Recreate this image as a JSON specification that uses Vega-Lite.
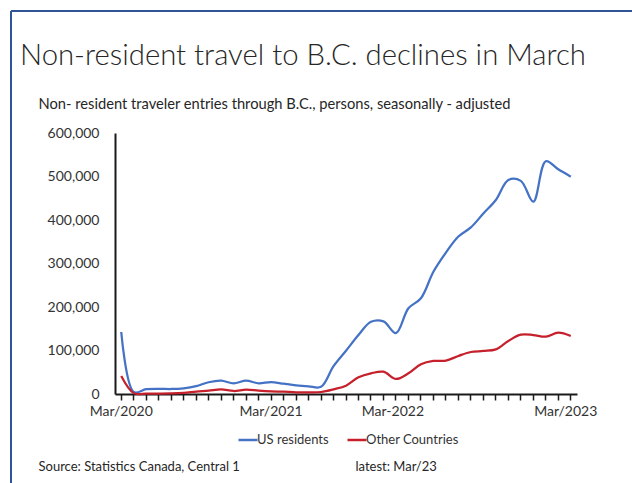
{
  "$schema": "https://vega.github.io/schema/vega-lite/v6.json",
  "autosize": {"type": "none"},
  "padding": {"left": 11, "top": 11, "right": 0, "bottom": 0},
  "width": 621,
  "height": 472,
  "background": "white",
  "config": {
    "view": {"stroke": "#2F5597", "strokeWidth": 2, "strokeDash": [621, 1093, 472, 0]},
    "font": "Lato"
  },
  "title": {
    "text": "Non-resident travel to B.C. declines in March",
    "anchor": "start",
    "frame": "group",
    "orient": "top",
    "offset": 0,
    "dx": 9,
    "dy": 83,
    "baseline": "alphabetic",
    "font": "Lato",
    "fontSize": 29.3,
    "fontWeight": 300,
    "color": "#262626"
  },
  "data": {
    "values": [
      {"month": "2020-03", "series": "US residents", "value": 142500},
      {"month": "2020-04", "series": "US residents", "value": 4600},
      {"month": "2020-05", "series": "US residents", "value": 11000},
      {"month": "2020-06", "series": "US residents", "value": 12000},
      {"month": "2020-07", "series": "US residents", "value": 11500},
      {"month": "2020-08", "series": "US residents", "value": 13000},
      {"month": "2020-09", "series": "US residents", "value": 18000},
      {"month": "2020-10", "series": "US residents", "value": 27000},
      {"month": "2020-11", "series": "US residents", "value": 30500},
      {"month": "2020-12", "series": "US residents", "value": 24500},
      {"month": "2021-01", "series": "US residents", "value": 30500},
      {"month": "2021-02", "series": "US residents", "value": 24500},
      {"month": "2021-03", "series": "US residents", "value": 27500},
      {"month": "2021-04", "series": "US residents", "value": 23700},
      {"month": "2021-05", "series": "US residents", "value": 20000},
      {"month": "2021-06", "series": "US residents", "value": 17700},
      {"month": "2021-07", "series": "US residents", "value": 16500},
      {"month": "2021-08", "series": "US residents", "value": 64000},
      {"month": "2021-09", "series": "US residents", "value": 99600},
      {"month": "2021-10", "series": "US residents", "value": 135600},
      {"month": "2021-11", "series": "US residents", "value": 166000},
      {"month": "2021-12", "series": "US residents", "value": 167000},
      {"month": "2022-01", "series": "US residents", "value": 140000},
      {"month": "2022-02", "series": "US residents", "value": 197000},
      {"month": "2022-03", "series": "US residents", "value": 220000},
      {"month": "2022-04", "series": "US residents", "value": 281000},
      {"month": "2022-05", "series": "US residents", "value": 325000},
      {"month": "2022-06", "series": "US residents", "value": 362000},
      {"month": "2022-07", "series": "US residents", "value": 383000},
      {"month": "2022-08", "series": "US residents", "value": 415000},
      {"month": "2022-09", "series": "US residents", "value": 446000},
      {"month": "2022-10", "series": "US residents", "value": 492000},
      {"month": "2022-11", "series": "US residents", "value": 490000},
      {"month": "2022-12", "series": "US residents", "value": 442000},
      {"month": "2023-01", "series": "US residents", "value": 535000},
      {"month": "2023-02", "series": "US residents", "value": 516500},
      {"month": "2023-03", "series": "US residents", "value": 499600},
      {"month": "2020-03", "series": "Other Countries", "value": 41400},
      {"month": "2020-04", "series": "Other Countries", "value": 2000},
      {"month": "2020-05", "series": "Other Countries", "value": 700},
      {"month": "2020-06", "series": "Other Countries", "value": 800},
      {"month": "2020-07", "series": "Other Countries", "value": 1200},
      {"month": "2020-08", "series": "Other Countries", "value": 2500},
      {"month": "2020-09", "series": "Other Countries", "value": 5400},
      {"month": "2020-10", "series": "Other Countries", "value": 7700},
      {"month": "2020-11", "series": "Other Countries", "value": 10700},
      {"month": "2020-12", "series": "Other Countries", "value": 6900},
      {"month": "2021-01", "series": "Other Countries", "value": 9900},
      {"month": "2021-02", "series": "Other Countries", "value": 7700},
      {"month": "2021-03", "series": "Other Countries", "value": 6100},
      {"month": "2021-04", "series": "Other Countries", "value": 5400},
      {"month": "2021-05", "series": "Other Countries", "value": 3900},
      {"month": "2021-06", "series": "Other Countries", "value": 3900},
      {"month": "2021-07", "series": "Other Countries", "value": 4600},
      {"month": "2021-08", "series": "Other Countries", "value": 10700},
      {"month": "2021-09", "series": "Other Countries", "value": 19200},
      {"month": "2021-10", "series": "Other Countries", "value": 38300},
      {"month": "2021-11", "series": "Other Countries", "value": 47500},
      {"month": "2021-12", "series": "Other Countries", "value": 51300},
      {"month": "2022-01", "series": "Other Countries", "value": 34500},
      {"month": "2022-02", "series": "Other Countries", "value": 47500},
      {"month": "2022-03", "series": "Other Countries", "value": 68200},
      {"month": "2022-04", "series": "Other Countries", "value": 75900},
      {"month": "2022-05", "series": "Other Countries", "value": 76600},
      {"month": "2022-06", "series": "Other Countries", "value": 87400},
      {"month": "2022-07", "series": "Other Countries", "value": 96600},
      {"month": "2022-08", "series": "Other Countries", "value": 98900},
      {"month": "2022-09", "series": "Other Countries", "value": 102700},
      {"month": "2022-10", "series": "Other Countries", "value": 121800},
      {"month": "2022-11", "series": "Other Countries", "value": 136400},
      {"month": "2022-12", "series": "Other Countries", "value": 135600},
      {"month": "2023-01", "series": "Other Countries", "value": 131800},
      {"month": "2023-02", "series": "Other Countries", "value": 141000},
      {"month": "2023-03", "series": "Other Countries", "value": 133300}
    ]
  },
  "encoding": {
    "y": {
      "field": "value",
      "type": "quantitative",
      "scale": {"domain": [0, 600000], "range": [383, 122], "nice": false, "zero": true},
      "axis": {
        "orient": "left",
        "offset": -104,
        "values": [0, 100000, 200000, 300000, 400000, 500000, 600000],
        "format": ",d",
        "ticks": false,
        "grid": false,
        "domainColor": "#1a1a1a",
        "domainWidth": 2,
        "labelFont": "Lato",
        "labelFontSize": 14,
        "labelColor": "#333333",
        "labelPadding": 16,
        "title": "Non- resident traveler entries through B.C., persons, seasonally - adjusted",
        "titleAngle": 0,
        "titleX": -77,
        "titleY": 97,
        "titleAlign": "left",
        "titleAnchor": "start",
        "titleBaseline": "alphabetic",
        "titleFont": "Lato",
        "titleFontSize": 14.7,
        "titleFontWeight": "normal",
        "titleColor": "#262626"
      }
    },
    "color": {
      "field": "series",
      "type": "nominal",
      "scale": {"domain": ["US residents", "Other Countries"], "range": ["#4472C4", "#C5202B"]},
      "legend": {
        "orient": "none",
        "legendX": 226,
        "legendY": 418,
        "direction": "horizontal",
        "title": null,
        "symbolType": "stroke",
        "symbolSize": 361,
        "symbolStrokeWidth": 2.5,
        "labelFont": "Lato",
        "labelFontSize": 13,
        "labelColor": "#333333",
        "labelOffset": -2,
        "columnPadding": 13,
        "padding": 0
      }
    }
  },
  "layer": [
    {
      "transform": [{"filter": "datum.series === 'US residents'"}],
      "mark": {"type": "line", "strokeWidth": 2.25, "interpolate": "catmull-rom"},
      "encoding": {
        "x": {
          "field": "month",
          "type": "ordinal",
          "bandPosition": 0.5,
          "scale": {"type": "band", "paddingInner": 0, "paddingOuter": 0, "range": [104, 566]},
          "axis": {
            "orient": "bottom",
            "offset": -89,
            "grid": false,
            "domainColor": "#1a1a1a",
            "domainWidth": 2,
            "ticks": true,
            "tickColor": "#1a1a1a",
            "tickWidth": 1.5,
            "tickSize": 6,
            "labelExpr": "datum.value === '2020-03' ? 'Mar/2020' : datum.value === '2021-03' ? 'Mar/2021' : datum.value === '2022-03' ? 'Mar-2022' : datum.value === '2023-03' ? 'Mar/2023' : ''",
            "labelOffset": {"condition": [{"test": "datum.value === '2022-03'", "value": -28}, {"test": "datum.value === '2023-03'", "value": -5}], "value": 0},
            "labelOverlap": false,
            "labelAngle": 0,
            "labelFont": "Lato",
            "labelFontSize": 14,
            "labelColor": "#333333",
            "labelPadding": 4,
            "title": "Source: Statistics Canada, Central 1",
            "titleX": 27,
            "titleY": 76,
            "titleAlign": "left",
            "titleAnchor": "start",
            "titleBaseline": "alphabetic",
            "titleFont": "Lato",
            "titleFontSize": 13,
            "titleFontWeight": "normal",
            "titleColor": "#262626"
          }
        }
      }
    },
    {
      "transform": [{"filter": "datum.series === 'Other Countries'"}],
      "mark": {"type": "line", "strokeWidth": 2.25, "interpolate": "catmull-rom"},
      "encoding": {
        "x": {
          "field": "month",
          "type": "ordinal",
          "bandPosition": 0.5,
          "axis": {
            "orient": "bottom",
            "offset": -89,
            "domain": false,
            "ticks": false,
            "labels": false,
            "grid": false,
            "title": "latest: Mar/23",
            "titleX": 344,
            "titleY": 76,
            "titleAlign": "left",
            "titleAnchor": "start",
            "titleBaseline": "alphabetic",
            "titleFont": "Lato",
            "titleFontSize": 13,
            "titleFontWeight": "normal",
            "titleColor": "#262626"
          }
        }
      }
    }
  ],
  "resolve": {"axis": {"x": "independent"}}
}
